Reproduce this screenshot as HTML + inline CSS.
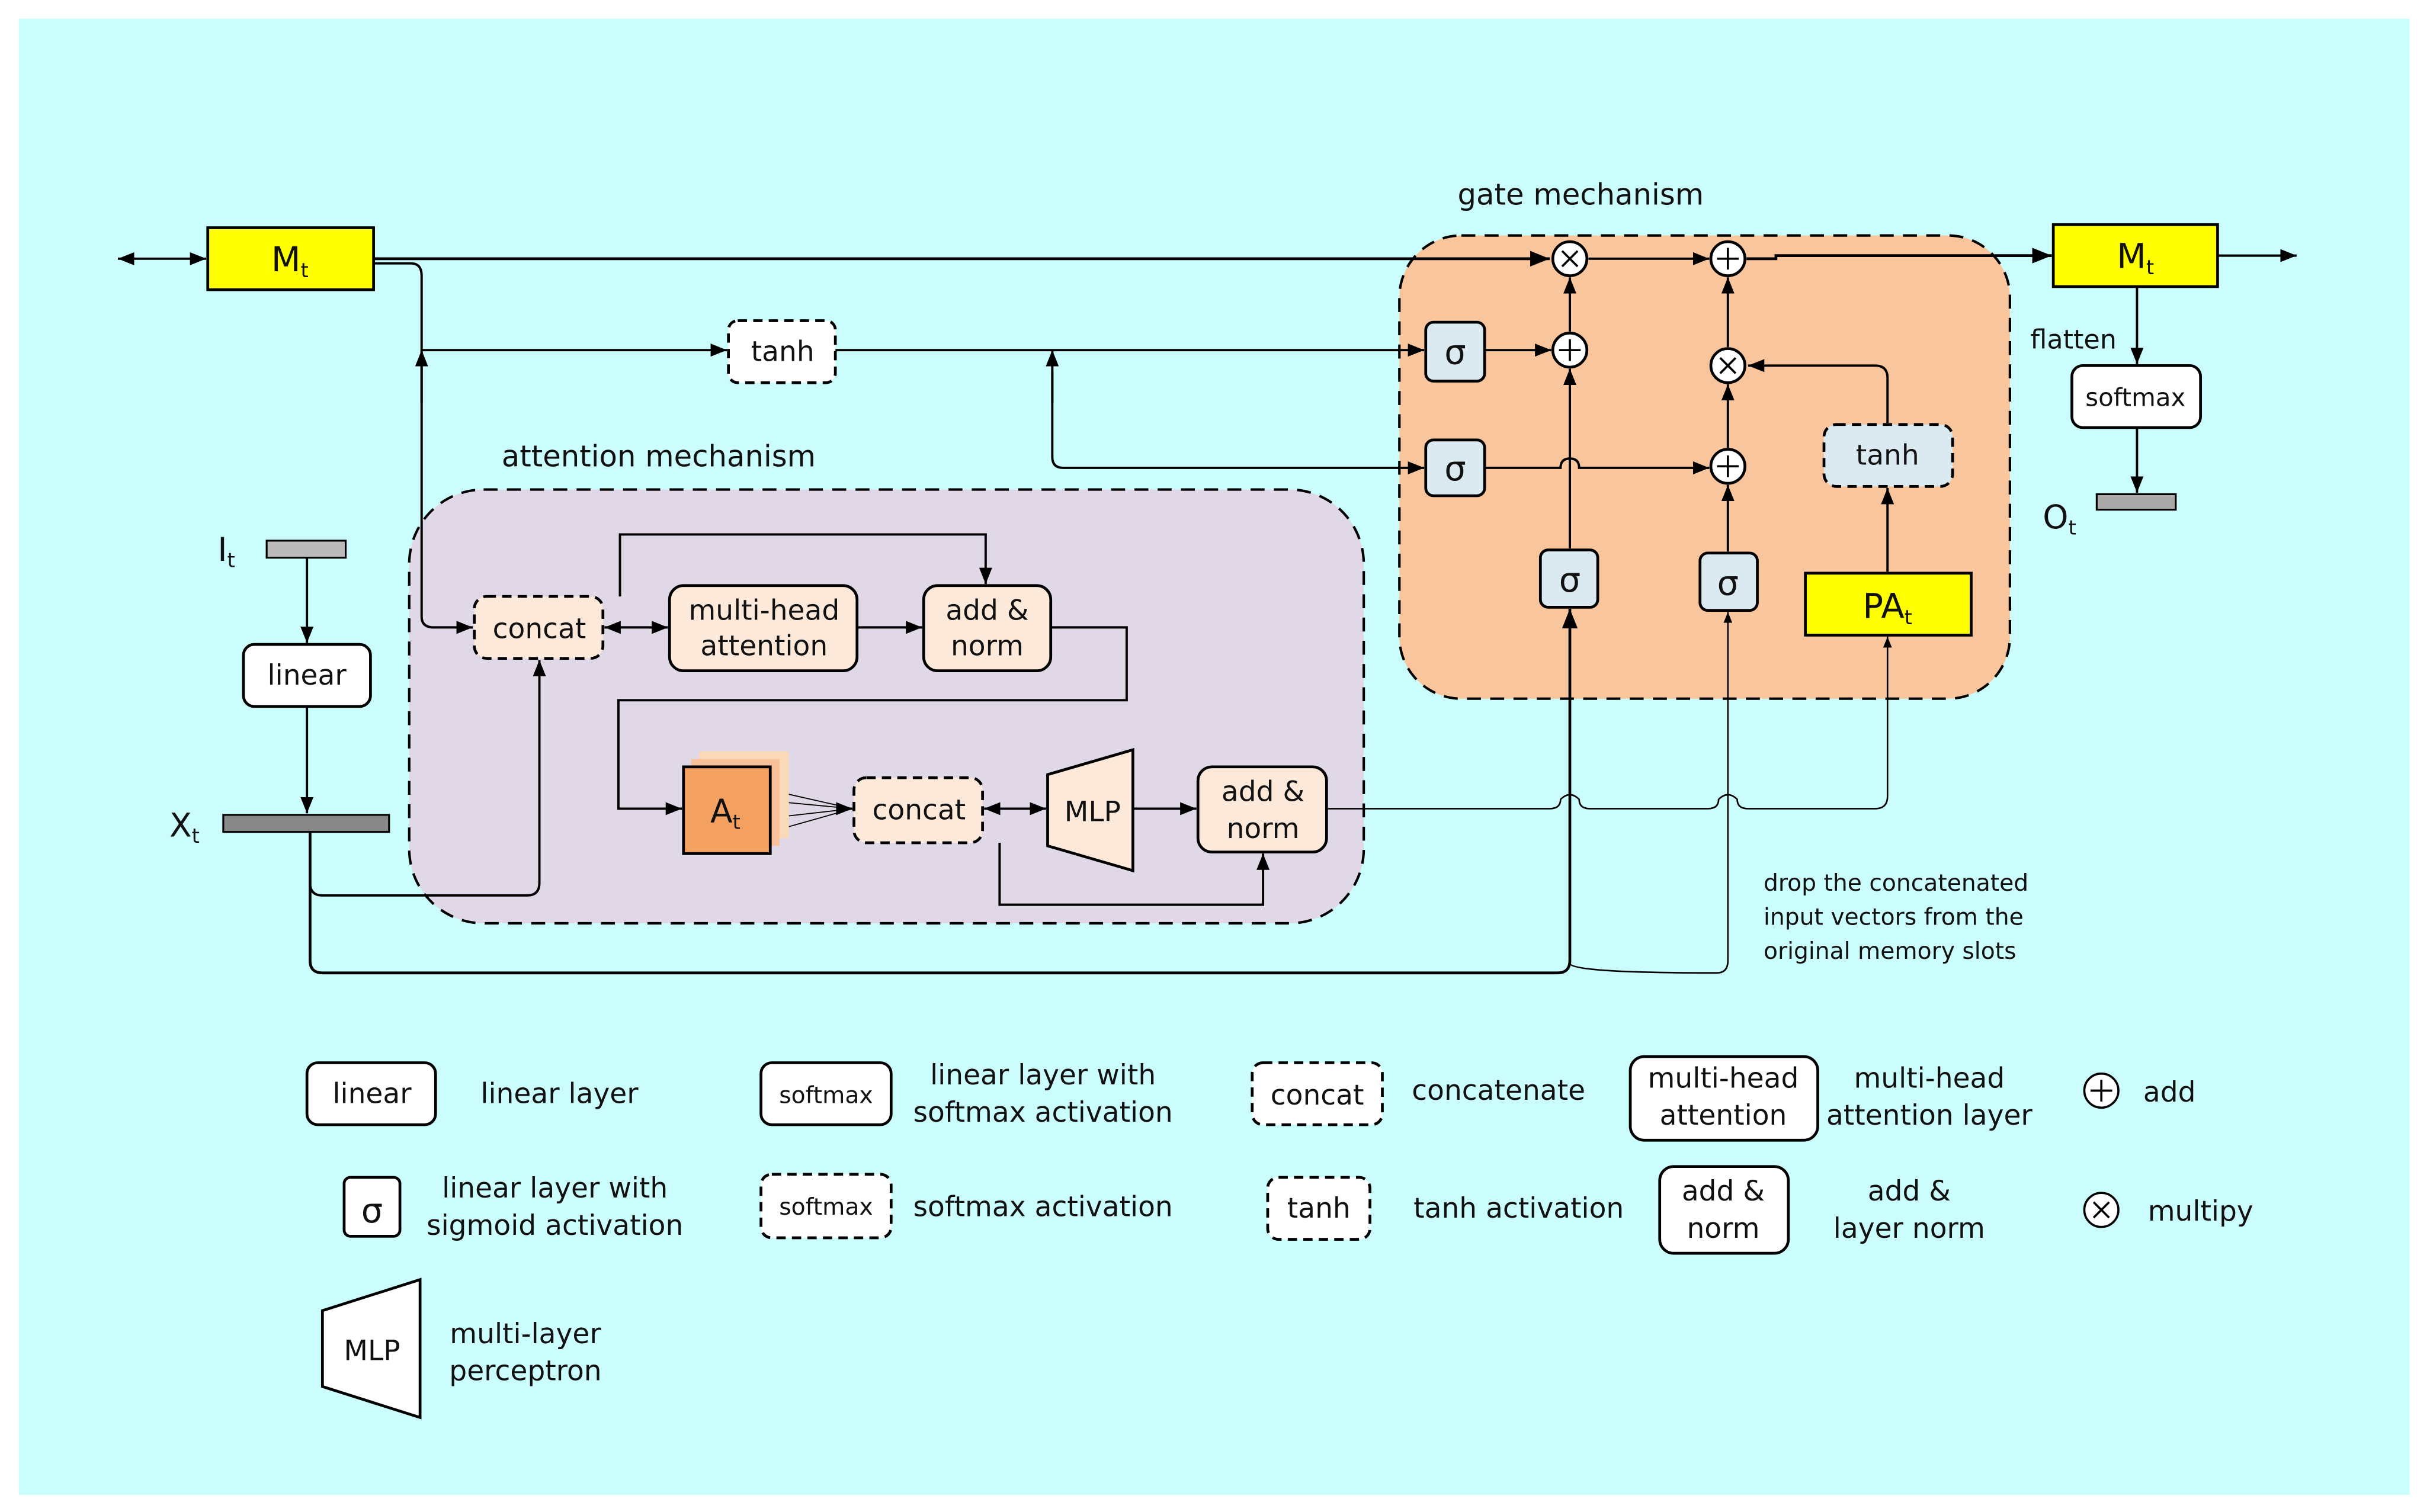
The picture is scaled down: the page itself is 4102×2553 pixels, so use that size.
<!DOCTYPE html>
<html><head><meta charset="utf-8"><style>
html,body{margin:0;padding:0;background:#fff}
svg{display:block}
text{font-family:"DejaVu Sans","Liberation Sans",sans-serif;fill:#111}
</style></head><body>
<svg width="4102" height="2553" viewBox="0 0 1568 976" xmlns="http://www.w3.org/2000/svg">
<defs>
<marker id="a" viewBox="0 0 10 10" refX="10" refY="5" markerWidth="7" markerHeight="7" orient="auto-start-reverse"><path d="M0,1 L10,5 L0,9 z" fill="#000"/></marker>
</defs>
<rect x="0" y="0" width="1568" height="976" fill="#fff"/>
<rect x="12" y="12" width="1543" height="953" fill="#ccfdfd"/>

<rect x="264" y="316" width="616" height="280" rx="48" fill="#e0d8e6" stroke="#000" stroke-width="1.6" stroke-dasharray="9,6"/>
<rect x="903" y="152" width="394" height="299" rx="40" fill="#f8c59c" stroke="#000" stroke-width="1.6" stroke-dasharray="9,6"/>
<text x="425" y="301" font-size="19" text-anchor="middle">attention mechanism</text>
<text x="1020" y="132" font-size="19" text-anchor="middle">gate mechanism</text>

<g fill="none" stroke="#000" stroke-width="1.5">
<line x1="76" y1="167" x2="133" y2="167" marker-start="url(#a)" marker-end="url(#a)"/>
<line x1="241" y1="167" x2="1000" y2="167" stroke-width="1.8" marker-end="url(#a)"/>
<path d="M241,170 H265 Q272,170 272,178 V398 Q272,405 280,405 H305" marker-end="url(#a)"/>
<line x1="272" y1="260" x2="272" y2="226" marker-end="url(#a)"/>
<line x1="272" y1="226" x2="469" y2="226" marker-end="url(#a)"/>
<line x1="539" y1="226" x2="919" y2="226" marker-end="url(#a)"/>
<line x1="679" y1="260" x2="679" y2="226" marker-end="url(#a)"/>
<path d="M679,240 V295 Q679,302 686,302 H919" marker-end="url(#a)"/>
<line x1="198" y1="360" x2="198" y2="415" marker-end="url(#a)"/>
<line x1="198" y1="456" x2="198" y2="525" marker-end="url(#a)"/>
<path d="M200,537 V570 Q200,578 208,578 H340 Q348,578 348,570 V426" marker-end="url(#a)"/>
<path d="M200,537 V620 Q200,628 208,628 H1005 Q1013,628 1013,620 V393" stroke-width="1.8" marker-end="url(#a)"/>
<path d="M1013,622 Q1015,628 1108,628 Q1115,628 1115,620 V395" stroke-width="1" marker-end="url(#a)"/>
<line x1="390" y1="405" x2="431" y2="405" marker-start="url(#a)" marker-end="url(#a)"/>
<line x1="553" y1="405" x2="595" y2="405" marker-end="url(#a)"/>
<path d="M400,385 V345 H636 V377" marker-end="url(#a)"/>
<path d="M678,405 H727 V452 H399 V522 H440" marker-end="url(#a)"/>
<line x1="635" y1="522" x2="675" y2="522" marker-start="url(#a)" marker-end="url(#a)"/>
<line x1="731" y1="522" x2="772" y2="522" marker-end="url(#a)"/>
<path d="M645,544 V584 H815 V551" marker-end="url(#a)"/>
<path d="M856,522 H1000 Q1007,522 1007,516 Q1013,510 1019,516 Q1019,522 1026,522 H1102 Q1109,522 1109,516 Q1115,510 1121,516 Q1121,522 1128,522 H1210 Q1218,522 1218,514 V411" stroke-width="1" marker-end="url(#a)"/>
<line x1="958" y1="226" x2="1001" y2="226" marker-end="url(#a)"/>
<line x1="1013" y1="354" x2="1013" y2="238" marker-end="url(#a)"/>
<line x1="1013" y1="214" x2="1013" y2="179" marker-end="url(#a)"/>
<path d="M958,302 H1007 Q1007,296 1013,296 Q1019,296 1019,302 H1103" marker-end="url(#a)"/>
<line x1="1025" y1="167" x2="1103" y2="167" marker-end="url(#a)"/>
<line x1="1115" y1="356" x2="1115" y2="313" marker-end="url(#a)"/>
<line x1="1115" y1="289" x2="1115" y2="248" marker-end="url(#a)"/>
<line x1="1115" y1="224" x2="1115" y2="179" marker-end="url(#a)"/>
<path d="M1218,273 V244 Q1218,236 1210,236 H1128" marker-end="url(#a)"/>
<line x1="1218" y1="369" x2="1218" y2="315" marker-end="url(#a)"/>
<path d="M1127,167 H1146 V165 H1324" stroke-width="1.8" marker-end="url(#a)"/>
<line x1="1431" y1="165" x2="1482" y2="165" marker-end="url(#a)"/>
<line x1="1379" y1="185" x2="1379" y2="235" marker-end="url(#a)"/>
<line x1="1379" y1="276" x2="1379" y2="318" marker-end="url(#a)"/>
<g stroke-width="0.7"><line x1="497" y1="510" x2="550" y2="522"/><line x1="497" y1="517" x2="550" y2="522"/><line x1="497" y1="528" x2="550" y2="522"/><line x1="497" y1="537" x2="550" y2="522"/></g>
<line x1="540" y1="522" x2="550" y2="522" marker-end="url(#a)"/>
</g>

<g stroke="#000" stroke-width="1.8">
<rect x="134" y="147" width="107" height="40" fill="#ffff00"/>
<rect x="1325" y="145" width="106" height="40" fill="#ffff00"/>
<rect x="1165" y="370" width="107" height="40" fill="#ffff00"/>
<rect x="172" y="349" width="51" height="11" fill="#bbb" stroke-width="1.2"/>
<rect x="144" y="526" width="107" height="11" fill="#888" stroke-width="1.2"/>
<rect x="1353" y="319" width="51" height="10" fill="#aaa" stroke-width="1.2"/>
<rect x="470" y="207" width="69" height="40" rx="6" fill="#fff" stroke-dasharray="6,4"/>
<rect x="920" y="208" width="38" height="38" rx="5" fill="#dbe9f1"/>
<rect x="920" y="284" width="38" height="36" rx="5" fill="#dbe9f1"/>
<rect x="994" y="355" width="37" height="37" rx="5" fill="#dbe9f1"/>
<rect x="1097" y="357" width="37" height="37" rx="5" fill="#dbe9f1"/>
<rect x="1177" y="274" width="83" height="40" rx="8" fill="#dbe9f1" stroke-dasharray="6,4"/>
<rect x="1337" y="236" width="83" height="40" rx="7" fill="#fff"/>
<rect x="157" y="416" width="82" height="40" rx="7" fill="#fff"/>
<rect x="306" y="385" width="83" height="40" rx="8" fill="#fde9da" stroke-dasharray="6,4"/>
<rect x="432" y="378" width="121" height="55" rx="9" fill="#fde9da"/>
<rect x="596" y="378" width="82" height="55" rx="9" fill="#fde9da"/>
<rect x="451" y="485" width="58" height="56" fill="#fbd8b8" stroke="none"/>
<rect x="446" y="490" width="57" height="56" fill="#f9c19a" stroke="none"/>
<rect x="441" y="495" width="56" height="56" fill="#f4a060"/>
<rect x="551" y="502" width="83" height="42" rx="8" fill="#fde9da" stroke-dasharray="6,4"/>
<path d="M676,500 L731,484 L731,562 L676,546 Z" fill="#fde9da"/>
<rect x="773" y="495" width="83" height="55" rx="9" fill="#fde9da"/>
<circle cx="1013" cy="167" r="11" fill="#fff"/><circle cx="1013" cy="226" r="11" fill="#fff"/>
<circle cx="1115" cy="167" r="11" fill="#fff"/><circle cx="1115" cy="236" r="11" fill="#fff"/><circle cx="1115" cy="301" r="11" fill="#fff"/>
</g>
<g stroke="#000" stroke-width="1.4">
<path d="M1013,219 v14 M1006,226 h14"/>
<path d="M1115,160 v14 M1108,167 h14 M1115,294 v14 M1108,301 h14"/>
<path d="M1008,162 l10,10 M1018,162 l-10,10 M1110,231 l10,10 M1120,231 l-10,10"/>
</g>

<g font-size="18" text-anchor="middle">
<text x="187" y="175" font-size="22">M<tspan font-size="13" dy="4">t</tspan></text>
<text x="1378" y="173" font-size="22">M<tspan font-size="13" dy="4">t</tspan></text>
<text x="1218" y="399" font-size="22">PA<tspan font-size="13" dy="4">t</tspan></text>
<text x="468" y="531" font-size="21">A<tspan font-size="13" dy="4">t</tspan></text>
<text x="146" y="362" font-size="21">I<tspan font-size="13" dy="4">t</tspan></text>
<text x="119" y="540" font-size="21">X<tspan font-size="13" dy="4">t</tspan></text>
<text x="1329" y="341" font-size="21">O<tspan font-size="13" dy="4">t</tspan></text>
<text x="505" y="233">tanh</text>
<text x="939" y="235" font-size="22">σ</text>
<text x="939" y="310" font-size="22">σ</text>
<text x="1013" y="382" font-size="22">σ</text>
<text x="1115" y="384" font-size="22">σ</text>
<text x="1218" y="300">tanh</text>
<text x="1378" y="262" font-size="16">softmax</text>
<text x="1338" y="225" font-size="17">flatten</text>
<text x="198" y="442">linear</text>
<text x="348" y="412">concat</text>
<text x="493" y="400">multi-head</text><text x="493" y="423">attention</text>
<text x="637" y="400">add &amp;</text><text x="637" y="423">norm</text>
<text x="593" y="529">concat</text>
<text x="705" y="530">MLP</text>
<text x="815" y="517">add &amp;</text><text x="815" y="541">norm</text>
</g>
<g font-size="15">
<text x="1138" y="575">drop the concatenated</text>
<text x="1138" y="597">input vectors from the</text>
<text x="1138" y="619">original memory slots</text>
</g>

<g stroke="#000" stroke-width="1.8">
<rect x="198" y="686" width="83" height="40" rx="7" fill="#fff"/>
<rect x="491" y="686" width="84" height="40" rx="7" fill="#fff"/>
<rect x="808" y="686" width="84" height="40" rx="7" fill="#fff" stroke-dasharray="6,4"/>
<rect x="1052" y="682" width="121" height="54" rx="9" fill="#fff"/>
<rect x="222" y="760" width="36" height="38" rx="4" fill="#fff"/>
<rect x="491" y="758" width="84" height="41" rx="7" fill="#fff" stroke-dasharray="6,4"/>
<rect x="818" y="760" width="66" height="40" rx="7" fill="#fff" stroke-dasharray="6,4"/>
<rect x="1071" y="753" width="83" height="56" rx="9" fill="#fff"/>
<path d="M208,846 L271,826 L271,915 L208,895 Z" fill="#fff"/>
<circle cx="1356" cy="704" r="11" fill="#fff" stroke-width="1.4"/>
<circle cx="1356" cy="781" r="11" fill="#fff" stroke-width="1.4"/>
<path d="M1356,697 v14 M1349,704 h14 M1351,776 l10,10 M1361,776 l-10,10" stroke-width="1.4"/>
</g>
<g font-size="18" text-anchor="middle">
<text x="240" y="712">linear</text>
<text x="533" y="712" font-size="15">softmax</text>
<text x="850" y="713">concat</text>
<text x="1112" y="702">multi-head</text><text x="1112" y="726">attention</text>
<text x="240" y="789" font-size="22">σ</text>
<text x="533" y="784" font-size="15">softmax</text>
<text x="851" y="786">tanh</text>
<text x="1112" y="775">add &amp;</text><text x="1112" y="799">norm</text>
<text x="240" y="878">MLP</text>
<text x="361" y="712">linear layer</text>
<text x="673" y="700">linear layer with</text><text x="673" y="724">softmax activation</text>
<text x="967" y="710">concatenate</text>
<text x="1245" y="702">multi-head</text><text x="1245" y="726">attention layer</text>
<text x="358" y="773">linear layer with</text><text x="358" y="797">sigmoid activation</text>
<text x="673" y="785">softmax activation</text>
<text x="980" y="786">tanh activation</text>
<text x="1232" y="775">add &amp;</text><text x="1232" y="799">layer norm</text>
<text x="339" y="867">multi-layer</text><text x="339" y="891">perceptron</text>
</g>
<text x="1383" y="711" font-size="18">add</text>
<text x="1386" y="788" font-size="18">multipy</text>
</svg>
</body></html>
